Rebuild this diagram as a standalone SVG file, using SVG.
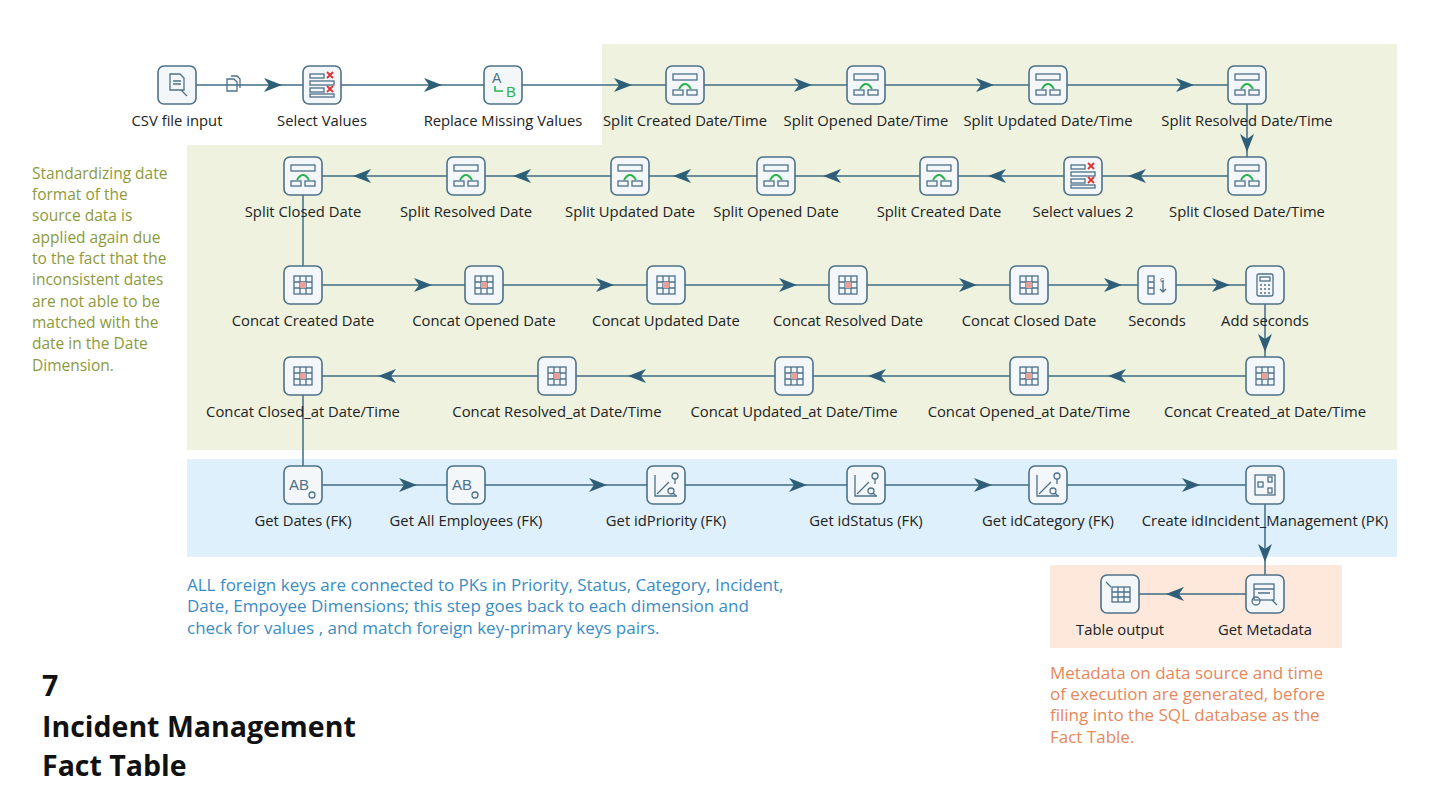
<svg xmlns="http://www.w3.org/2000/svg" xmlns:xlink="http://www.w3.org/1999/xlink" width="1430" height="805" viewBox="0 0 1430 805">
<style>
.box{fill:#f4f7f9;stroke:#4d7189;stroke-width:1.6}
.ic{fill:none;stroke:#4d7189;stroke-width:1.3}
.lbl{font-family:"Open Sans","Liberation Sans",sans-serif;font-size:14.8px;fill:#222;text-anchor:middle}
.hop{fill:none;stroke:#3f6c86;stroke-width:1.5;marker-mid:url(#ah)}
.hopn{fill:none;stroke:#3f6c86;stroke-width:1.5}
.note{font-family:"Open Sans","Liberation Sans",sans-serif;font-size:15.5px}
.note2{font-family:"Open Sans","Liberation Sans",sans-serif;font-size:17px}
</style>
<defs>
<marker id="ah" markerWidth="20" markerHeight="14" refX="16" refY="7" orient="auto" markerUnits="userSpaceOnUse"><path d="M0,0 L18,7 L0,14 L5,7 Z" fill="#2f5e78"/></marker>
<g id="frame"><rect class="box" x="-19" y="-19" width="38" height="38" rx="6"/></g>
<g id="split"><use href="#frame"/><rect class="ic" x="-12" y="-11" width="24" height="6"/><rect class="ic" x="-12" y="5" width="10" height="5"/><rect class="ic" x="2" y="5" width="10" height="5"/><path d="M-6,4 Q0,-6 6,4" fill="none" stroke="#2bb24c" stroke-width="2"/></g>
<g id="concat"><use href="#frame"/><rect class="ic" x="-9" y="-9" width="18" height="18"/><path class="ic" d="M-9,-3H9M-9,3H9M-3,-9V9M3,-9V9"/><rect x="-3" y="-3" width="6" height="6" fill="#e8a09a"/></g>
<g id="sel"><use href="#frame"/><rect class="ic" x="-12" y="-11" width="14" height="4"/><rect class="ic" x="-12" y="-4" width="24" height="4"/><rect class="ic" x="-12" y="3" width="14" height="4"/><rect class="ic" x="-12" y="9" width="24" height="3"/><path d="M5,-13l6,6M11,-13l-6,6M5,1l6,6M11,1l-6,6" stroke="#e03030" stroke-width="1.8"/></g>
<g id="look"><use href="#frame"/><path class="ic" d="M-11,-10V11H11M-9,9L3,-3"/><circle class="ic" cx="9" cy="-9" r="3"/><path class="ic" d="M9,-6V-1"/><circle class="ic" cx="5" cy="6" r="3"/><path class="ic" d="M7,8l3,3"/></g>
<g id="ab"><use href="#frame"/><text x="-4" y="5" font-family="Liberation Sans,sans-serif" font-size="15" fill="#4d7189" text-anchor="middle">AB</text><circle class="ic" cx="9" cy="10" r="3"/></g>
</defs>
<rect width="1430" height="805" fill="#fff"/>
<g id="backgrounds">
<path d="M602,44H1397V450H187V145H602Z" fill="#eef2df"/>
<rect x="187" y="459" width="1210" height="98" fill="#ddf0fb"/>
<rect x="1050" y="565" width="292" height="83" fill="#fde8db"/>
</g>
<g id="connectors">
<path class="hop" d="M196,85 L280,85 L303,85"/>
<path class="hop" d="M341,85 L440,85 L484,85"/>
<path class="hop" d="M522,85 L630,85 L666,85"/>
<path class="hop" d="M704,85 L810,85 L847,85"/>
<path class="hop" d="M885,85 L992,85 L1029,85"/>
<path class="hop" d="M1067,85 L1192,85 L1228,85"/>
<path class="hop" d="M1247,104 L1247,150 L1247,157"/>
<path class="hop" d="M1228,176 L1130,176 L1102,176"/>
<path class="hop" d="M1064,176 L990,176 L958,176"/>
<path class="hop" d="M920,176 L825,176 L795,176"/>
<path class="hop" d="M757,176 L675,176 L649,176"/>
<path class="hop" d="M611,176 L515,176 L485,176"/>
<path class="hop" d="M447,176 L355,176 L322,176"/>
<path class="hopn" d="M303,195 V266"/>
<path class="hop" d="M322,285 L430,285 L465,285"/>
<path class="hop" d="M503,285 L612,285 L647,285"/>
<path class="hop" d="M685,285 L795,285 L829,285"/>
<path class="hop" d="M867,285 L975,285 L1010,285"/>
<path class="hop" d="M1048,285 L1120,285 L1138,285"/>
<path class="hop" d="M1176,285 L1228,285 L1246,285"/>
<path class="hop" d="M1265,304 L1265,350 L1265,357"/>
<path class="hop" d="M1246,376 L1110,376 L1048,376"/>
<path class="hop" d="M1010,376 L870,376 L813,376"/>
<path class="hop" d="M775,376 L630,376 L576,376"/>
<path class="hop" d="M538,376 L380,376 L322,376"/>
<path class="hopn" d="M303,395 V466"/>
<path class="hop" d="M322,485 L415,485 L447,485"/>
<path class="hop" d="M485,485 L605,485 L647,485"/>
<path class="hop" d="M685,485 L805,485 L847,485"/>
<path class="hop" d="M885,485 L990,485 L1029,485"/>
<path class="hop" d="M1067,485 L1198,485 L1246,485"/>
<path class="hop" d="M1265,504 L1265,560 L1265,575"/>
<path class="hop" d="M1246,594 L1168,594 L1139,594"/>
<g fill="none" stroke="#4d7189" stroke-width="1.3"><path d="M227,79h7l3,3v9h-10z"/><path d="M231,76h6l3,3v9"/></g>
</g>
<g id="n-csv"><use href="#frame" x="177" y="85"/><path class="ic" d="M170,74h10l4,4v12h-14z M173,81h8M173,84h8M181,90l6,6"/><text class="lbl" x="177" y="126">CSV file input</text></g>
<g id="n-sel"><use href="#sel" x="322" y="85"/><text class="lbl" x="322" y="126">Select Values</text></g>
<g id="n-rep"><use href="#frame" x="503" y="85"/><text x="492" y="83" font-family="Liberation Sans,sans-serif" font-size="14" fill="#4d7189">A</text><text x="506" y="97" font-family="Liberation Sans,sans-serif" font-size="15" fill="#2bb24c">B</text><path d="M495,86v5h8" fill="none" stroke="#2bb24c" stroke-width="1.6"/><text class="lbl" x="503" y="126">Replace Missing Values</text></g>
<g id="n-s1"><use href="#split" x="685" y="85"/><text class="lbl" x="685" y="126">Split Created Date/Time</text></g>
<g id="n-s2"><use href="#split" x="866" y="85"/><text class="lbl" x="866" y="126">Split Opened Date/Time</text></g>
<g id="n-s3"><use href="#split" x="1048" y="85"/><text class="lbl" x="1048" y="126">Split Updated Date/Time</text></g>
<g id="n-s4"><use href="#split" x="1247" y="85"/><text class="lbl" x="1247" y="126">Split Resolved Date/Time</text></g>
<g id="n-s5"><use href="#split" x="1247" y="176"/><text class="lbl" x="1247" y="217">Split Closed Date/Time</text></g>
<g id="n-sel2"><use href="#sel" x="1083" y="176"/><text class="lbl" x="1083" y="217">Select values 2</text></g>
<g id="n-s6"><use href="#split" x="939" y="176"/><text class="lbl" x="939" y="217">Split Created Date</text></g>
<g id="n-s7"><use href="#split" x="776" y="176"/><text class="lbl" x="776" y="217">Split Opened Date</text></g>
<g id="n-s8"><use href="#split" x="630" y="176"/><text class="lbl" x="630" y="217">Split Updated Date</text></g>
<g id="n-s9"><use href="#split" x="466" y="176"/><text class="lbl" x="466" y="217">Split Resolved Date</text></g>
<g id="n-s10"><use href="#split" x="303" y="176"/><text class="lbl" x="303" y="217">Split Closed Date</text></g>
<g id="n-c1"><use href="#concat" x="303" y="285"/><text class="lbl" x="303" y="326">Concat Created Date</text></g>
<g id="n-c2"><use href="#concat" x="484" y="285"/><text class="lbl" x="484" y="326">Concat Opened Date</text></g>
<g id="n-c3"><use href="#concat" x="666" y="285"/><text class="lbl" x="666" y="326">Concat Updated Date</text></g>
<g id="n-c4"><use href="#concat" x="848" y="285"/><text class="lbl" x="848" y="326">Concat Resolved Date</text></g>
<g id="n-c5"><use href="#concat" x="1029" y="285"/><text class="lbl" x="1029" y="326">Concat Closed Date</text></g>
<g id="n-sec"><use href="#frame" x="1157" y="285"/><rect class="ic" x="1148" y="276" width="6" height="18"/><path class="ic" d="M1148,282h6M1148,288h6M1163,280v12M1160,289l3,3l3,-3"/><text x="1160" y="282" font-family="Liberation Sans,sans-serif" font-size="8" fill="#4d7189">c</text><text class="lbl" x="1157" y="326">Seconds</text></g>
<g id="n-add"><use href="#frame" x="1265" y="285"/><rect class="ic" x="1257" y="274" width="16" height="22" rx="2"/><rect class="ic" x="1260" y="277" width="10" height="4"/><path d="M1260,285h10M1260,289h10M1260,293h10" stroke="#4d7189" stroke-width="1.5" stroke-dasharray="2,2"/><text class="lbl" x="1265" y="326">Add seconds</text></g>
<g id="n-c6"><use href="#concat" x="1265" y="376"/><text class="lbl" x="1265" y="417">Concat Created_at Date/Time</text></g>
<g id="n-c7"><use href="#concat" x="1029" y="376"/><text class="lbl" x="1029" y="417">Concat Opened_at Date/Time</text></g>
<g id="n-c8"><use href="#concat" x="794" y="376"/><text class="lbl" x="794" y="417">Concat Updated_at Date/Time</text></g>
<g id="n-c9"><use href="#concat" x="557" y="376"/><text class="lbl" x="557" y="417">Concat Resolved_at Date/Time</text></g>
<g id="n-c10"><use href="#concat" x="303" y="376"/><text class="lbl" x="303" y="417">Concat Closed_at Date/Time</text></g>
<g id="n-gd"><use href="#ab" x="303" y="485"/><text class="lbl" x="303" y="526">Get Dates (FK)</text></g>
<g id="n-ge"><use href="#ab" x="466" y="485"/><text class="lbl" x="466" y="526">Get All Employees (FK)</text></g>
<g id="n-gp"><use href="#look" x="666" y="485"/><text class="lbl" x="666" y="526">Get idPriority (FK)</text></g>
<g id="n-gs"><use href="#look" x="866" y="485"/><text class="lbl" x="866" y="526">Get idStatus (FK)</text></g>
<g id="n-gc"><use href="#look" x="1048" y="485"/><text class="lbl" x="1048" y="526">Get idCategory (FK)</text></g>
<g id="n-ci"><use href="#frame" x="1265" y="485"/><rect class="ic" x="1255" y="475" width="20" height="20"/><rect class="ic" x="1258" y="482" width="5" height="5"/><rect class="ic" x="1268" y="477" width="4" height="5"/><rect class="ic" x="1268" y="488" width="4" height="5"/><text class="lbl" x="1265" y="526">Create idIncident_Management (PK)</text></g>
<g id="n-gm"><use href="#frame" x="1265" y="594"/><rect class="ic" x="1254" y="584" width="20" height="16"/><path class="ic" d="M1254,589h20M1258,593h12"/><circle class="ic" cx="1256" cy="601" r="4" fill="#f4f7f9"/><path class="ic" d="M1272,600l5,5"/><text class="lbl" x="1265" y="635">Get Metadata</text></g>
<g id="n-to"><use href="#frame" x="1120" y="594"/><rect class="ic" x="1112" y="587" width="18" height="15"/><path class="ic" d="M1112,592h18M1112,597h18M1118,587v15M1124,587v15M1106,582l5,5"/><text class="lbl" x="1120" y="635">Table output</text></g>
<g id="notes">
<text class="note" fill="#8c9a3c"><tspan x="32" y="179">Standardizing date</tspan><tspan x="32" y="200">format of the</tspan><tspan x="32" y="221">source data is</tspan><tspan x="32" y="243">applied again due</tspan><tspan x="32" y="264">to the fact that the</tspan><tspan x="32" y="285">inconsistent dates</tspan><tspan x="32" y="307">are not able to be</tspan><tspan x="32" y="328">matched with the</tspan><tspan x="32" y="349">date in the Date</tspan><tspan x="32" y="371">Dimension.</tspan></text>
<text class="note2" fill="#3a8cc4"><tspan x="187" y="591">ALL foreign keys are connected to PKs in Priority, Status, Category, Incident,</tspan><tspan x="187" y="612">Date, Empoyee Dimensions; this step goes back to each dimension and</tspan><tspan x="187" y="634">check for values , and match foreign key-primary keys pairs.</tspan></text>
<text class="note2" fill="#e8875a"><tspan x="1050" y="679">Metadata on data source and time</tspan><tspan x="1050" y="700">of execution are generated, before</tspan><tspan x="1050" y="721">filing into the SQL database as the</tspan><tspan x="1050" y="743">Fact Table.</tspan></text>
<text font-family="'Open Sans','Liberation Sans',sans-serif" font-weight="bold" font-size="28.5" fill="#111"><tspan x="42" y="696">7</tspan><tspan x="42" y="737">Incident Management</tspan><tspan x="42" y="776">Fact Table</tspan></text>
</g>
</svg>
